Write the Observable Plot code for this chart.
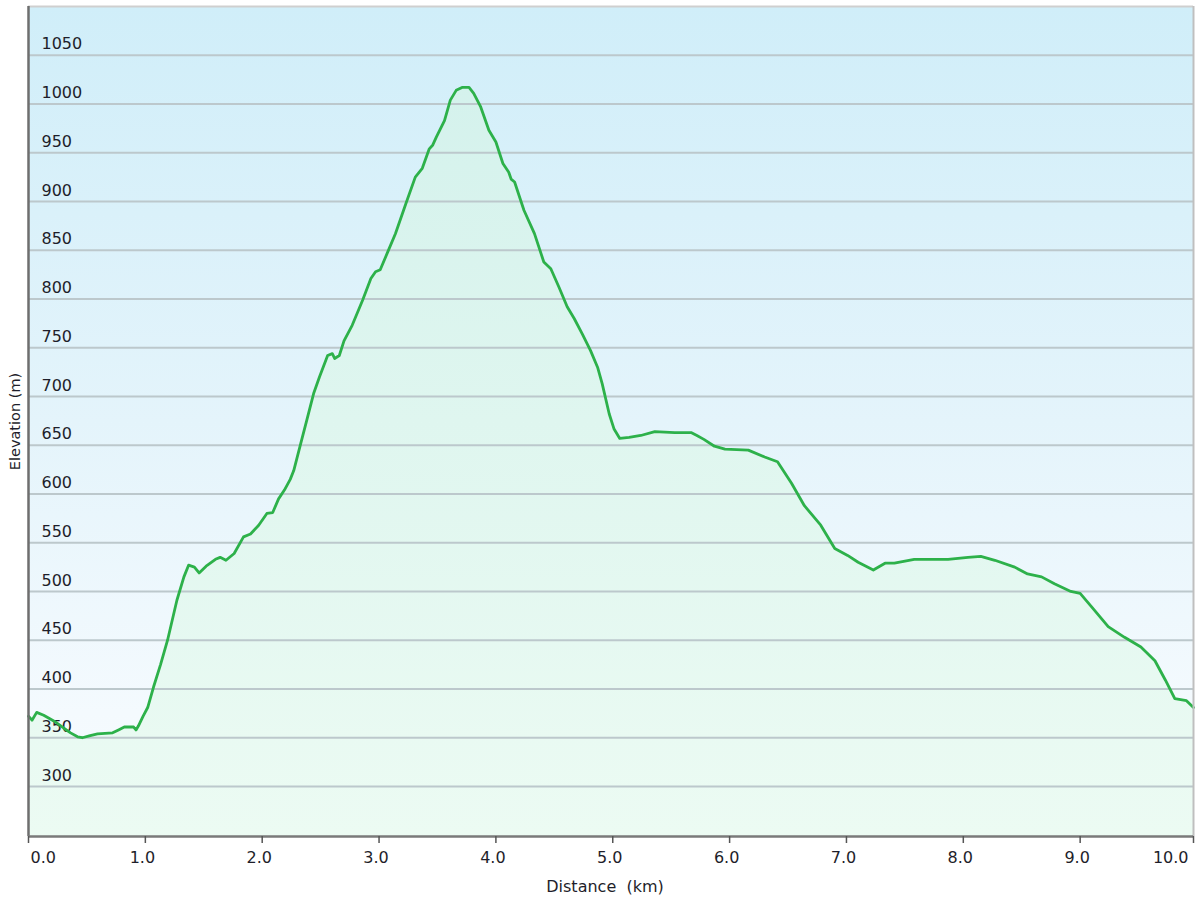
<!DOCTYPE html>
<html>
<head>
<meta charset="utf-8">
<script src="https://cdn.jsdelivr.net/npm/d3@7"></script>
<script src="https://cdn.jsdelivr.net/npm/@observablehq/plot@0.6"></script>
<style>
  html, body { margin: 0; padding: 0; background: #ffffff; }
  #chart { width: 1200px; height: 900px; }
</style>
</head>
<body>
<div id="chart"></div>
<script>
// Elevation profile data
const distanceKm = [
  0.00, 0.03, 0.07, 0.13, 0.22, 0.30, 0.36, 0.42, 0.46, 0.52, 0.59, 0.72, 0.77, 0.82, 0.90, 0.92, 0.94, 0.98,
  1.02, 1.07, 1.13, 1.19, 1.27, 1.33, 1.37, 1.42, 1.46, 1.52, 1.60, 1.64, 1.69, 1.76, 1.84, 1.90, 1.97,
  2.04, 2.09, 2.14, 2.19, 2.24, 2.27, 2.33, 2.38, 2.44, 2.49, 2.56, 2.60, 2.62, 2.66, 2.70, 2.77, 2.86, 2.93, 2.97,
  3.01, 3.07, 3.14, 3.23, 3.31, 3.37, 3.43, 3.46, 3.49, 3.56, 3.61, 3.66, 3.71, 3.77, 3.81, 3.87, 3.94,
  4.00, 4.06, 4.11, 4.13, 4.16, 4.24, 4.33, 4.41, 4.47, 4.54, 4.61, 4.67, 4.74, 4.81, 4.87, 4.91, 4.97,
  5.01, 5.06, 5.14, 5.24, 5.36, 5.53, 5.67, 5.72, 5.78, 5.87, 5.96,
  6.16, 6.30, 6.41, 6.53, 6.64, 6.78, 6.90,
  7.01, 7.10, 7.23, 7.33, 7.41, 7.58, 7.87,
  8.04, 8.15, 8.27, 8.44, 8.55, 8.67, 8.78, 8.92,
  9.00, 9.10, 9.24, 9.38, 9.52, 9.64, 9.73, 9.81, 9.91, 9.97
];
const elevationM = [
  372, 368, 376, 373, 367, 360, 355, 351, 350, 352, 354, 355, 358, 361, 361, 358, 362, 372,
  381, 402, 425, 450, 491, 515, 527, 525, 519, 526, 533, 535, 532, 539, 556, 559, 568,
  580, 581, 595, 604, 615, 624, 652, 675, 703, 720, 742, 744, 739, 742, 757, 773, 799, 821, 828,
  830, 847, 867, 898, 925, 934, 954, 958, 966, 983, 1004, 1014, 1017, 1017, 1011, 997, 973,
  961, 939, 930, 923, 920, 891, 867, 838, 831, 812, 792, 780, 764, 747, 730, 713, 682,
  667, 657, 658, 660, 664, 663, 663, 660, 656, 649, 646,
  645, 638, 633, 611, 588, 568, 544,
  537, 530, 522, 529, 529, 533, 533,
  535, 536, 532, 525, 518, 515, 508, 500,
  498, 484, 464, 453, 443, 429, 409, 390, 388, 381
];

// Axis ticks
const yTicks = [300, 350, 400, 450, 500, 550, 600, 650, 700, 750, 800, 850, 900, 950, 1000, 1050];
const xTickValues = [0, 1, 2, 3, 4, 5, 6, 7, 8, 9, 9.97];
const xTickLabels = ["0.0", "1.0", "2.0", "3.0", "4.0", "5.0", "6.0", "7.0", "8.0", "9.0", "10.0"];
const xTitle = "Distance\u00a0\u00a0(km)";
const yTitle = "Elevation (m)";

const yMin = 248.7, yMax = 1100;
const xMin = 0, xMax = 9.97;

const data = distanceKm.map((d, i) => ({ km: d, m: elevationM[i] }));
const ticks = xTickValues.map((v, i) => ({ v, label: xTickLabels[i], i }));
const firstTick = ticks.filter(t => t.i === 0);
const lastTick = ticks.filter(t => t.i === ticks.length - 1);
const midTicks = ticks.filter(t => t.i > 0 && t.i < ticks.length - 1);

const defs = () => {
  const d = d3.create("svg:defs");
  const bg = d.append("linearGradient").attr("id", "bgGrad")
    .attr("gradientUnits", "userSpaceOnUse").attr("x1", 0).attr("y1", 6).attr("x2", 0).attr("y2", 836);
  bg.append("stop").attr("offset", "0").attr("stop-color", "#d0eef9");
  bg.append("stop").attr("offset", "0.5").attr("stop-color", "#e4f4fb");
  bg.append("stop").attr("offset", "0.85").attr("stop-color", "#f4fafe");
  bg.append("stop").attr("offset", "1").attr("stop-color", "#f7fcfe");
  const ar = d.append("linearGradient").attr("id", "areaGrad")
    .attr("gradientUnits", "userSpaceOnUse").attr("x1", 0).attr("y1", 6).attr("x2", 0).attr("y2", 836);
  ar.append("stop").attr("offset", "0").attr("stop-color", "#d2f1ec");
  ar.append("stop").attr("offset", "0.5").attr("stop-color", "#dff6ef");
  ar.append("stop").attr("offset", "1").attr("stop-color", "#ecfbf3");
  return d.node();
};

const textColor = "#1e1e2a";

const chart = Plot.plot({
  width: 1200,
  height: 900,
  marginLeft: 28,
  marginRight: 7,
  marginTop: 6,
  marginBottom: 64,
  style: { fontFamily: "DejaVu Sans, Verdana, sans-serif", fontSize: "16px", color: textColor, background: "#ffffff" },
  x: { domain: [xMin, xMax], axis: null },
  y: { domain: [yMin, yMax], axis: null },
  marks: [
    defs,
    Plot.frame({ fill: "url(#bgGrad)", stroke: null }),
    Plot.areaY(data, { x: "km", y1: yMin, y2: "m", fill: "url(#areaGrad)", curve: "linear" }),
    Plot.gridY(yTicks, { stroke: "#bcc8cc", strokeOpacity: 1, strokeWidth: 1.8 }),
    Plot.text(yTicks, { y: d => d, text: d => String(d), frameAnchor: "left", textAnchor: "start", dx: 13, dy: -11, fill: textColor, fontSize: 16 }),
    Plot.lineY(data, { x: "km", y: "m", stroke: "#2db14a", strokeWidth: 2.8, curve: "linear", strokeLinejoin: "round" }),
    // borders
    Plot.ruleY([yMax], { stroke: "#cfcfcf", strokeWidth: 2 }),
    Plot.ruleX([xMax], { stroke: "#bfbfbf", strokeWidth: 2 }),
    Plot.ruleX([xMin], { stroke: "#6e6e6e", strokeWidth: 2.5 }),
    Plot.ruleY([yMin], { stroke: "#7a7a7a", strokeWidth: 2.5 }),
    // x ticks and labels
    Plot.axisX(xTickValues, { tickSize: 7, tickFormat: () => "", stroke: "#555", strokeWidth: 1.5, label: null }),
    Plot.text(firstTick, { x: "v", text: "label", frameAnchor: "bottom", textAnchor: "start", dx: 2, dy: 21, lineAnchor: "middle", fill: textColor, fontSize: 16 }),
    Plot.text(midTicks, { x: "v", text: "label", frameAnchor: "bottom", textAnchor: "middle", dx: -3, dy: 21, lineAnchor: "middle", fill: textColor, fontSize: 16 }),
    Plot.text(lastTick, { x: "v", text: "label", frameAnchor: "bottom", textAnchor: "end", dx: -5, dy: 21, lineAnchor: "middle", fill: textColor, fontSize: 16 }),
    // axis titles
    Plot.text([xTitle], { x: (xMin + xMax) / 2, text: d => d, frameAnchor: "bottom", textAnchor: "middle", dy: 50, dx: -6, lineAnchor: "middle", fill: textColor, fontSize: 16 }),
    Plot.text([yTitle], { y: (yMin + yMax) / 2, text: d => d, frameAnchor: "left", textAnchor: "middle", dx: -13, dy: 0, rotate: -90, lineAnchor: "middle", fill: textColor, fontSize: 14.5 })
  ]
});

document.getElementById("chart").appendChild(chart);
</script>
</body>
</html>
